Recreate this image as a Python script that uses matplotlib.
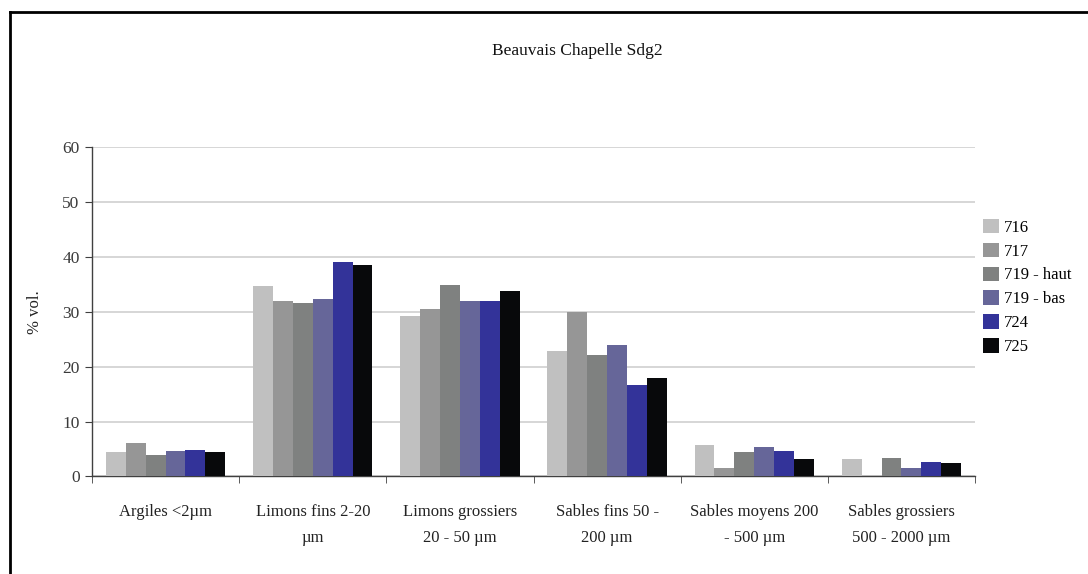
import matplotlib
matplotlib.use("Agg")
import matplotlib.pyplot as plt
from matplotlib.lines import Line2D
from matplotlib.patches import Patch
import numpy as np

categories = ["Argiles <2µm", "Limons fins 2-20\nµm", "Limons grossiers\n20 - 50 µm",
              "Sables fins 50 -\n200 µm", "Sables moyens 200\n- 500 µm",
              "Sables grossiers\n500 - 2000 µm"]
series_names = ["716", "717", "719 - haut", "719 - bas", "724", "725"]
s716 = [4.5, 34.6, 29.3, 22.9, 5.7, 3.1]
s717 = [6.0, 32.0, 30.5, 30.0, 1.6, 0.0]
s719_haut = [3.9, 31.6, 34.9, 22.1, 4.5, 3.4]
s719_bas = [4.6, 32.3, 32.0, 23.9, 5.4, 1.6]
s724 = [4.9, 39.0, 32.0, 16.7, 4.6, 2.7]
s725 = [4.4, 38.5, 33.8, 18.0, 3.1, 2.4]
colors = ["#C0C0C0", "#969696", "#7F8180", "#666699", "#333399", "#08090B"]

plt.rcParams['font.family'] = ['Liberation Serif', 'DejaVu Serif']

fig = plt.figure(figsize=(10.88, 5.74), dpi=100)
ax = fig.add_axes([0.0846, 0.170, 0.8115, 0.574])

x = np.arange(len(categories))
w = 0.135
all_series = [s716, s717, s719_haut, s719_bas, s724, s725]
for i, (vals, col) in enumerate(zip(all_series, colors)):
    ax.bar(x + (i - 2.5) * w, vals, width=w, color=col, zorder=3)

ax.set_xlim(-0.5, len(categories) - 0.5)
ax.set_ylim(0, 60)
ax.set_yticks(range(0, 61, 10))
ax.yaxis.grid(True, color="#D0D0D0", linewidth=1.2, zorder=0)
ax.set_axisbelow(True)

ax.set_xticks(x)
ax.set_xticklabels(categories, fontsize=12, color="#222222", linespacing=1.8)
ax.tick_params(axis='x', length=0, pad=20)
ax.set_xticks(np.arange(-0.5, len(categories)), minor=True)
ax.tick_params(axis='x', which='minor', length=5, color="#404040", direction='out')
ax.tick_params(axis='y', length=5, color="#404040", labelsize=12.5, labelcolor="#3a3a3a", pad=4)

for s in ["top", "right"]:
    ax.spines[s].set_visible(False)
for s in ["left", "bottom"]:
    ax.spines[s].set_color("#404040")
    ax.spines[s].set_linewidth(1.0)

ax.set_ylabel("% vol.", fontsize=12, color="#222222", labelpad=14)

fig.text(577 / 1088, 1 - 51 / 574, "Beauvais Chapelle Sdg2", ha="center", va="center",
         fontsize=12.5, color="#111111")

handles = [Patch(facecolor=c, edgecolor="none") for c in colors]
fig.legend(handles, series_names, loc="upper left",
           bbox_to_anchor=(976 / 1088, 1 - 212 / 574), frameon=False,
           fontsize=12, handlelength=0.95, handleheight=0.95, handletextpad=0.3,
           labelspacing=0.42, borderaxespad=0)

# cropped frame border (top and left)
fig.add_artist(Line2D([10 / 1088, 10 / 1088], [0, 1 - 12 / 574], transform=fig.transFigure,
                      color="black", linewidth=2))
fig.add_artist(Line2D([10 / 1088, 1], [1 - 12 / 574, 1 - 12 / 574], transform=fig.transFigure,
                      color="black", linewidth=2))

fig.savefig("out.png", dpi=100)
